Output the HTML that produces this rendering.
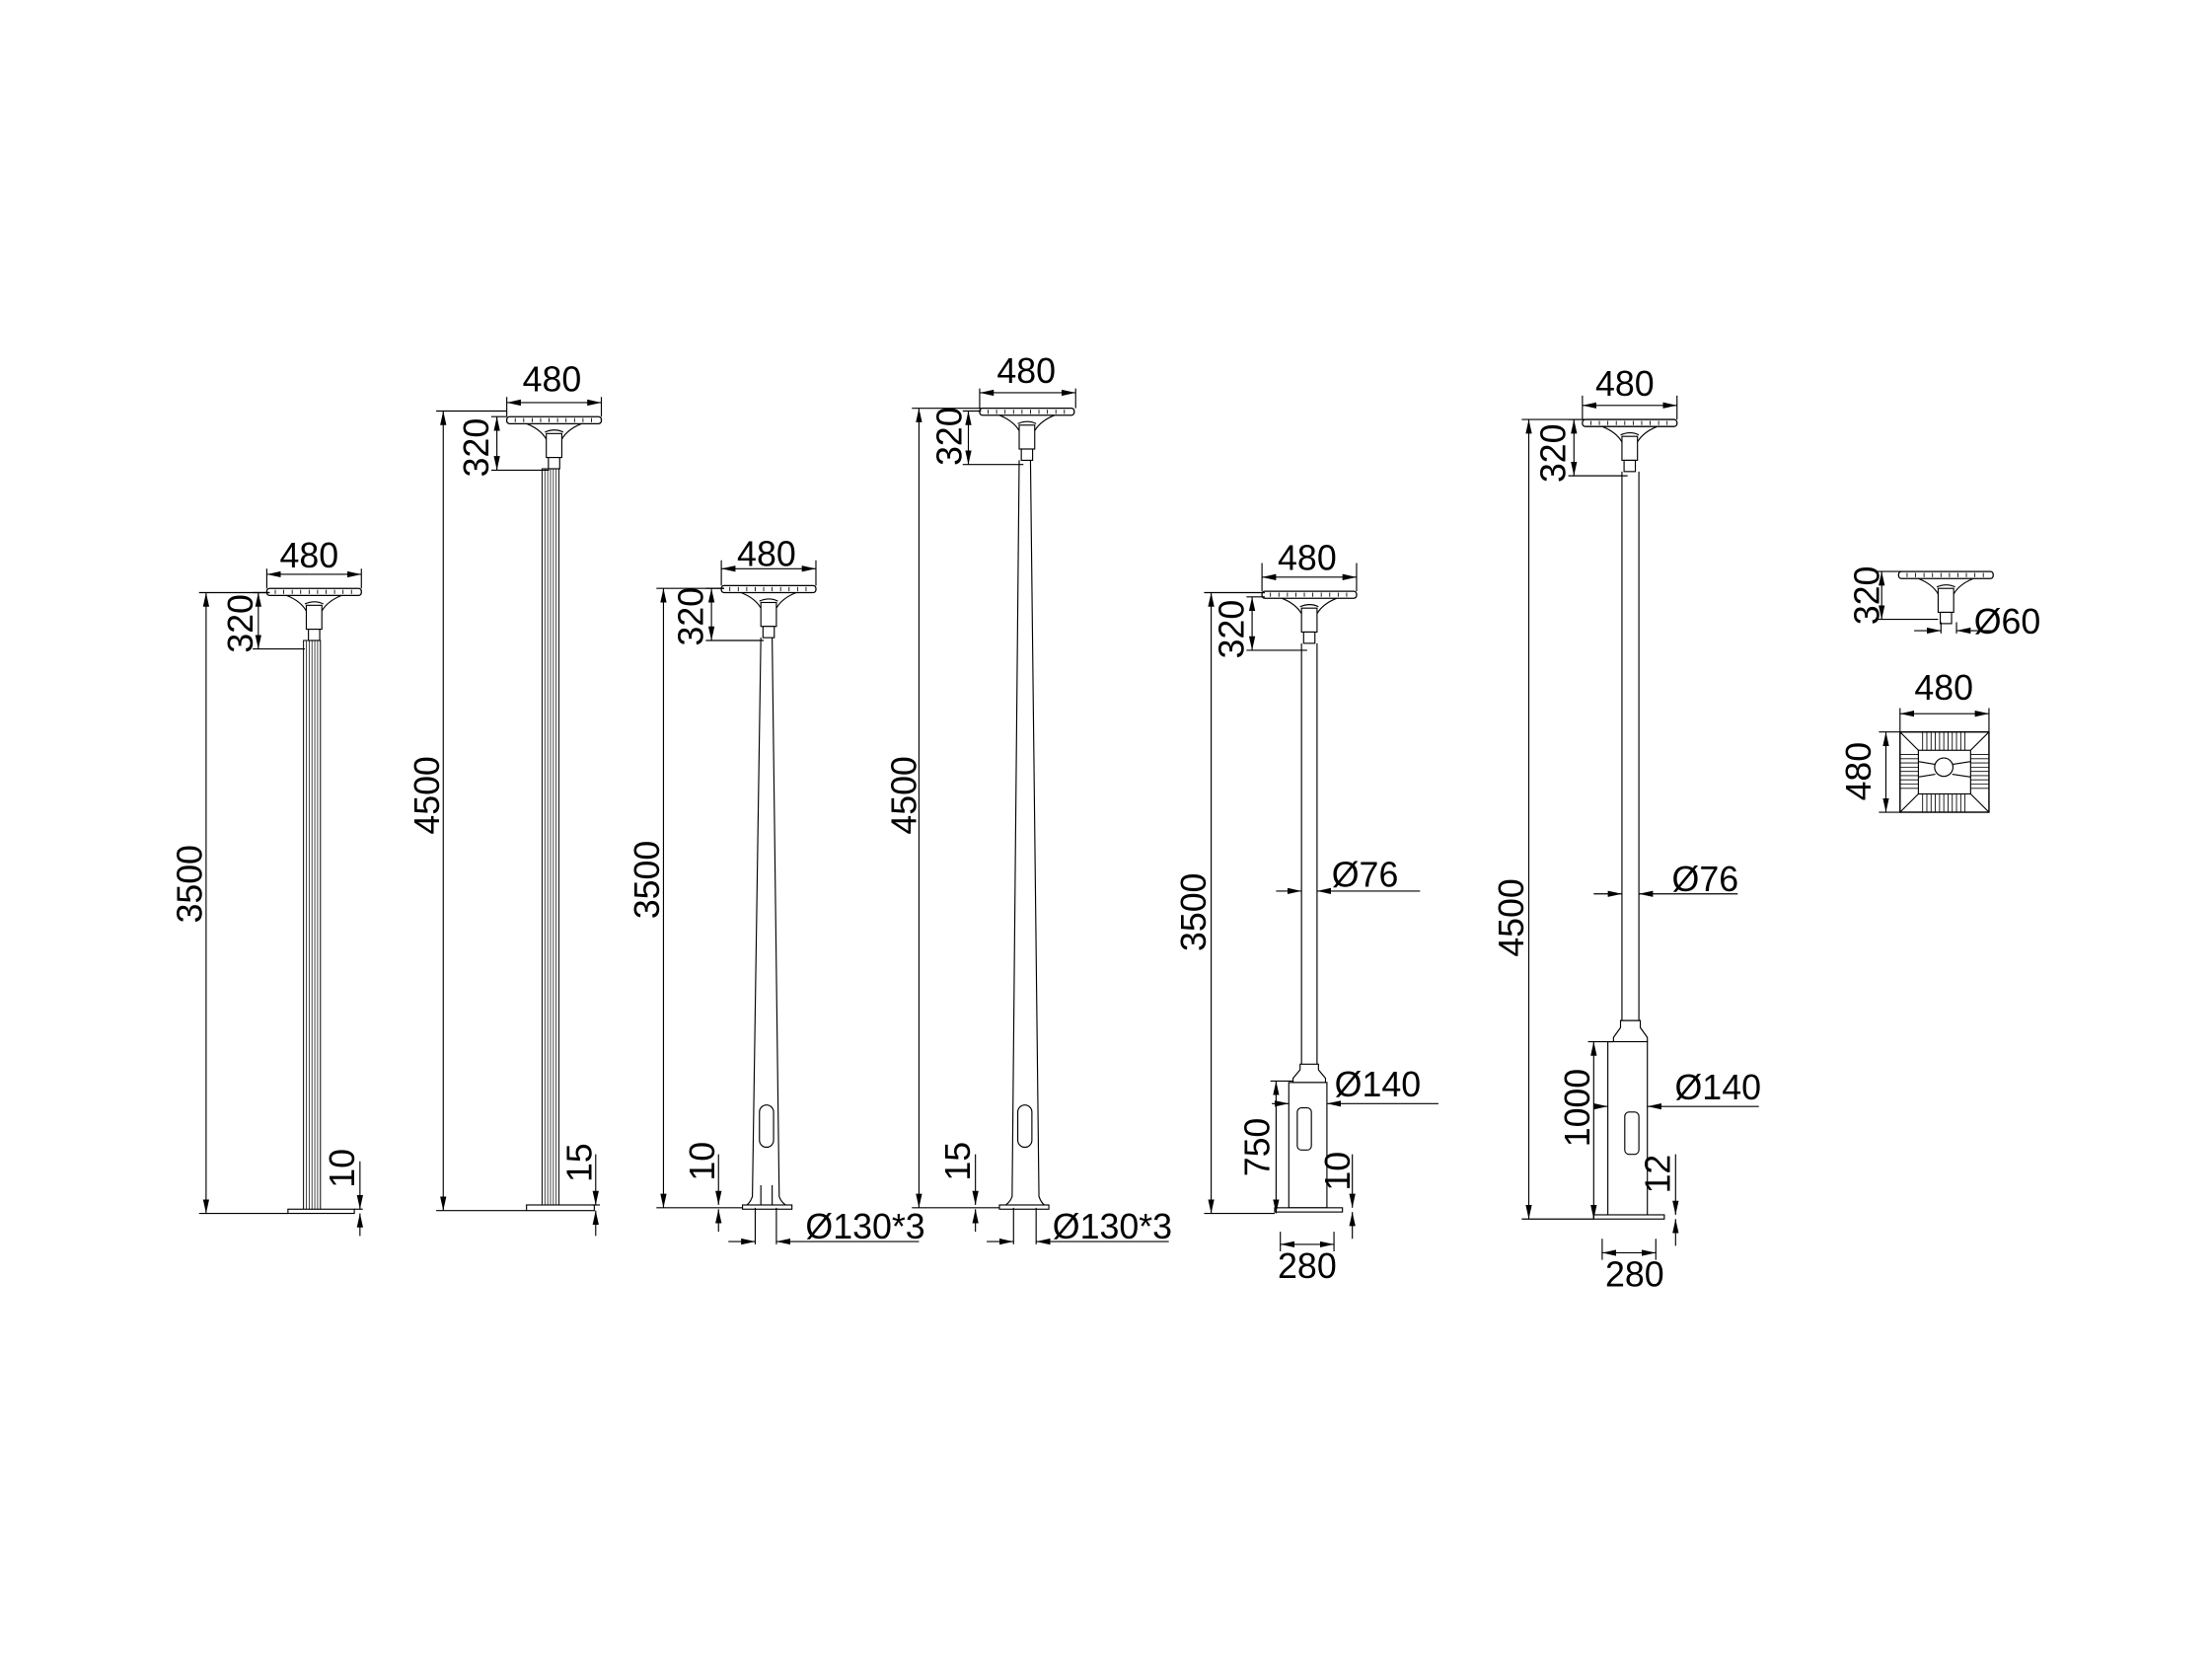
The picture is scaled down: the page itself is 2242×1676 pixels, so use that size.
<!DOCTYPE html>
<html><head><meta charset="utf-8"><style>
html,body{margin:0;padding:0;background:#fff;}
svg{display:block;}
text{font-family:"Liberation Sans",sans-serif;font-size:25px;fill:#000;}
</style></head><body>
<svg width="2242" height="1676" viewBox="-1 0 1567 1175" preserveAspectRatio="none" xmlns="http://www.w3.org/2000/svg">
<defs>
<marker id="a" viewBox="0 0 10 6" refX="10" refY="3" markerWidth="10" markerHeight="6" markerUnits="userSpaceOnUse" orient="auto-start-reverse"><path d="M0,0.8 L10,3 L0,5.2 Z" fill="#000"/></marker>
<g id="head">
<rect x="0" y="0" width="67" height="5" rx="2" fill="#fff" stroke="#000" stroke-width="0.9"/>
<path d="M6,1 v3 M12,1 v3 M18,1 v3 M24,1 v3 M30,1 v3 M36,1 v3 M42,1 v3 M48,1 v3 M54,1 v3 M60,1 v3" stroke="#000" stroke-width="0.6"/>
<path d="M14,5 Q24,9 28,16 M53,5 Q43,9 39,16" fill="none" stroke="#000" stroke-width="0.8"/>
<path d="M27,11 Q34,8 40,11" fill="none" stroke="#000" stroke-width="0.8"/>
<rect x="28" y="12" width="11" height="17" fill="#fff" stroke="#000" stroke-width="0.8"/>
<rect x="29.5" y="29" width="8" height="8" fill="#fff" stroke="#000" stroke-width="0.8"/>
</g>
</defs>
<g stroke="#000" stroke-width="0.8" fill="none">

<!-- Lamp 1 -->
<use href="#head" x="188" y="418"/>
<rect x="214" y="455" width="12" height="405" stroke-width="0.7"/>
<path d="M216,455V860M218,455V860M220,455V860M222,455V860M224,455V860" stroke-width="0.5"/>
<rect x="203" y="859" width="47" height="3" fill="#fff"/>
<path d="M188,404V418M255,404V418"/>
<path d="M188,408H255" marker-start="url(#a)" marker-end="url(#a)"/>
<path d="M178,421H190M178,461H215"/>
<path d="M182,421V461" marker-start="url(#a)" marker-end="url(#a)"/>
<path d="M140,421H190M140,862H203"/>
<path d="M145,421V862" marker-start="url(#a)" marker-end="url(#a)"/>
<path d="M254,825V859" marker-end="url(#a)"/><path d="M254,878V862" marker-end="url(#a)"/><path d="M250,859H256"/>

<!-- Lamp 2 -->
<use href="#head" x="358" y="296"/>
<rect x="383" y="333" width="12" height="524" stroke-width="0.7"/>
<path d="M385,333V857M387,333V857M389,333V857M391,333V857M393,333V857" stroke-width="0.5"/>
<rect x="372" y="856" width="48" height="4" fill="#fff"/>
<path d="M358,282V296M425,282V296"/>
<path d="M358,286H425" marker-start="url(#a)" marker-end="url(#a)"/>
<path d="M347,296H358M347,334H388"/>
<path d="M351,296V334" marker-start="url(#a)" marker-end="url(#a)"/>
<path d="M308,292H358M308,860H372"/>
<path d="M313,292V860" marker-start="url(#a)" marker-end="url(#a)"/>
<path d="M421,820V856" marker-end="url(#a)"/><path d="M421,878V860" marker-end="url(#a)"/><path d="M418,856H424"/>

<!-- Lamp 3 -->
<use href="#head" x="510" y="416"/>
<path d="M538,453L532,850Q530,856 525,858M546,453L551,850Q553,856 560,858"/>
<rect x="525" y="856" width="35" height="3" fill="#fff"/>
<rect x="537" y="785" width="10" height="30" rx="5"/>
<path d="M538,842V856M546,842V856"/>
<path d="M510,398V416M577,398V416"/>
<path d="M510,404H577" marker-start="url(#a)" marker-end="url(#a)"/>
<path d="M499,418H512M499,455H540"/>
<path d="M503,418V455" marker-start="url(#a)" marker-end="url(#a)"/>
<path d="M464,418H512M464,858H525"/>
<path d="M469,418V858" marker-start="url(#a)" marker-end="url(#a)"/>
<path d="M508,820V856" marker-end="url(#a)"/><path d="M508,875V859" marker-end="url(#a)"/>
<path d="M534,858V884M549,858V884"/>
<path d="M515,882H534" marker-end="url(#a)"/><path d="M650,882H549" marker-end="url(#a)"/>

<!-- Lamp 4 -->
<use href="#head" x="693" y="290"/>
<path d="M721,327L716,850Q714,856 707,858M729,327L735,850Q737,856 742,858"/>
<rect x="707" y="856" width="35" height="3" fill="#fff"/>
<rect x="720" y="785" width="10" height="30" rx="5"/>
<path d="M693,276V290M761,276V290"/>
<path d="M693,279H761" marker-start="url(#a)" marker-end="url(#a)"/>
<path d="M681,292H694M681,330H724"/>
<path d="M685,292V330" marker-start="url(#a)" marker-end="url(#a)"/>
<path d="M645,290H694M645,858H707"/>
<path d="M650,290V858" marker-start="url(#a)" marker-end="url(#a)"/>
<path d="M690,820V856" marker-end="url(#a)"/><path d="M690,875V859" marker-end="url(#a)"/>
<path d="M717,858V884M733,858V884"/>
<path d="M698,882H717" marker-end="url(#a)"/><path d="M827,882H733" marker-end="url(#a)"/>

<!-- Lamp 5 -->
<use href="#head" x="893" y="420"/>
<path d="M921,457V756M932,457V756"/>
<path d="M920,756H933V760L938,766V769H915V766L920,760Z" fill="#fff"/>
<rect x="912" y="769" width="27" height="89" fill="#fff"/>
<rect x="918" y="787" width="10" height="30" rx="3"/>
<rect x="902" y="858" width="48" height="3" fill="#fff"/>
<path d="M893,400V420M960,400V420"/>
<path d="M893,410H960" marker-start="url(#a)" marker-end="url(#a)"/>
<path d="M882,424H895M882,462H925"/>
<path d="M886,424V462" marker-start="url(#a)" marker-end="url(#a)"/>
<path d="M852,421H895M852,862H902"/>
<path d="M857,421V862" marker-start="url(#a)" marker-end="url(#a)"/>
<path d="M903,633H921" marker-end="url(#a)"/><path d="M1005,633H932" marker-end="url(#a)"/>
<path d="M900,784H912" marker-end="url(#a)"/><path d="M1018,784H939" marker-end="url(#a)"/>
<path d="M899,768H915"/>
<path d="M903,768V862" marker-start="url(#a)" marker-end="url(#a)"/>
<path d="M957,820V858" marker-end="url(#a)"/><path d="M957,880V861" marker-end="url(#a)"/>
<path d="M906,875V889M944,875V889"/>
<path d="M906,884H944" marker-start="url(#a)" marker-end="url(#a)"/>

<!-- Lamp 6 -->
<use href="#head" x="1120" y="298"/>
<path d="M1148,335V725M1160,335V725"/>
<path d="M1147,725H1161V730L1166,737V740H1142V737L1147,730Z" fill="#fff"/>
<rect x="1138" y="740" width="28" height="124" fill="#fff"/>
<rect x="1150" y="790" width="10" height="30" rx="3"/>
<rect x="1128" y="863" width="50" height="3" fill="#fff"/>
<path d="M1120,281V298M1187,281V298"/>
<path d="M1120,288H1187" marker-start="url(#a)" marker-end="url(#a)"/>
<path d="M1110,298H1122M1110,338H1152"/>
<path d="M1114,298V338" marker-start="url(#a)" marker-end="url(#a)"/>
<path d="M1077,298H1122M1077,866H1128"/>
<path d="M1082,298V866" marker-start="url(#a)" marker-end="url(#a)"/>
<path d="M1128,635H1148" marker-end="url(#a)"/><path d="M1230,635H1160" marker-end="url(#a)"/>
<path d="M1128,786H1138" marker-end="url(#a)"/><path d="M1245,786H1166" marker-end="url(#a)"/>
<path d="M1124,740H1142"/>
<path d="M1128,740V866" marker-start="url(#a)" marker-end="url(#a)"/>
<path d="M1186,820V863" marker-end="url(#a)"/><path d="M1186,885V866" marker-end="url(#a)"/>
<path d="M1134,880V895M1172,880V895"/>
<path d="M1134,890H1172" marker-start="url(#a)" marker-end="url(#a)"/>

<!-- Side view head -->
<use href="#head" x="1344" y="406"/>
<path d="M1328,406H1346M1328,440H1372"/>
<path d="M1332,406V440" marker-start="url(#a)" marker-end="url(#a)"/>
<path d="M1374,442V450M1385,442V450"/>
<path d="M1355,448H1374" marker-end="url(#a)"/><path d="M1395,448H1385" marker-end="url(#a)"/><path d="M1395,448H1410"/>

<!-- Top view -->
<rect x="1345" y="520" width="63" height="57" stroke-width="1"/>
<rect x="1358" y="533" width="37" height="31"/>
<path d="M1345,520L1358,533M1408,520L1395,533M1345,577L1358,564M1408,577L1395,564"/>
<path d="M1361,520v13M1364,520v13M1367,520v13M1370,520v13M1373,520v13M1376,520v13M1379,520v13M1382,520v13M1385,520v13M1388,520v13M1391,520v13
M1361,564v13M1364,564v13M1367,564v13M1370,564v13M1373,564v13M1376,564v13M1379,564v13M1382,564v13M1385,564v13M1388,564v13M1391,564v13
M1345,536h13M1345,539h13M1345,542h13M1345,545h13M1345,548h13M1345,551h13M1345,554h13M1345,557h13M1345,560h13
M1395,536h13M1395,539h13M1395,542h13M1395,545h13M1395,548h13M1395,551h13M1395,554h13M1395,557h13M1395,560h13" stroke-width="0.6"/>
<circle cx="1376" cy="545" r="6.5" fill="#fff"/>
<path d="M1358,541L1370,543M1358,552L1370,550M1395,541L1382,543M1395,552L1382,550"/>
<path d="M1345,503V520M1408,503V520"/>
<path d="M1345,507H1408" marker-start="url(#a)" marker-end="url(#a)"/>
<path d="M1330,520H1345M1330,577H1345"/>
<path d="M1335,520V577" marker-start="url(#a)" marker-end="url(#a)"/>
</g>

<g>
<text x="218" y="403" text-anchor="middle">480</text>
<text transform="translate(178,443) rotate(-90)" text-anchor="middle">320</text>
<text transform="translate(142,628) rotate(-90)" text-anchor="middle">3500</text>
<text transform="translate(250,830) rotate(-90)" text-anchor="middle">10</text>

<text x="390" y="278" text-anchor="middle">480</text>
<text transform="translate(345,318) rotate(-90)" text-anchor="middle">320</text>
<text transform="translate(310,565) rotate(-90)" text-anchor="middle">4500</text>
<text transform="translate(418,826) rotate(-90)" text-anchor="middle">15</text>

<text x="542" y="402" text-anchor="middle">480</text>
<text transform="translate(497,438) rotate(-90)" text-anchor="middle">320</text>
<text transform="translate(466,625) rotate(-90)" text-anchor="middle">3500</text>
<text transform="translate(505,825) rotate(-90)" text-anchor="middle">10</text>
<text x="612" y="880" text-anchor="middle">Ø130*3</text>

<text x="726" y="272" text-anchor="middle">480</text>
<text transform="translate(680,310) rotate(-90)" text-anchor="middle">320</text>
<text transform="translate(648,565) rotate(-90)" text-anchor="middle">4500</text>
<text transform="translate(686,825) rotate(-90)" text-anchor="middle">15</text>
<text x="787" y="880" text-anchor="middle">Ø130*3</text>

<text x="925" y="405" text-anchor="middle">480</text>
<text transform="translate(880,447) rotate(-90)" text-anchor="middle">320</text>
<text transform="translate(853,648) rotate(-90)" text-anchor="middle">3500</text>
<text x="966" y="630" text-anchor="middle">Ø76</text>
<text x="975" y="779" text-anchor="middle">Ø140</text>
<text transform="translate(898,815) rotate(-90)" text-anchor="middle">750</text>
<text transform="translate(955,832) rotate(-90)" text-anchor="middle">10</text>
<text x="925" y="908" text-anchor="middle">280</text>

<text x="1150" y="281" text-anchor="middle">480</text>
<text transform="translate(1108,322) rotate(-90)" text-anchor="middle">320</text>
<text transform="translate(1078,652) rotate(-90)" text-anchor="middle">4500</text>
<text x="1207" y="633" text-anchor="middle">Ø76</text>
<text x="1216" y="781" text-anchor="middle">Ø140</text>
<text transform="translate(1125,787) rotate(-90)" text-anchor="middle">1000</text>
<text transform="translate(1182,834) rotate(-90)" text-anchor="middle">12</text>
<text x="1157" y="914" text-anchor="middle">280</text>

<text transform="translate(1330,423) rotate(-90)" text-anchor="middle">320</text>
<text x="1421" y="450" text-anchor="middle">Ø60</text>
<text x="1376" y="497" text-anchor="middle">480</text>
<text transform="translate(1324,548) rotate(-90)" text-anchor="middle">480</text>
</g>
</svg>
</body></html>
